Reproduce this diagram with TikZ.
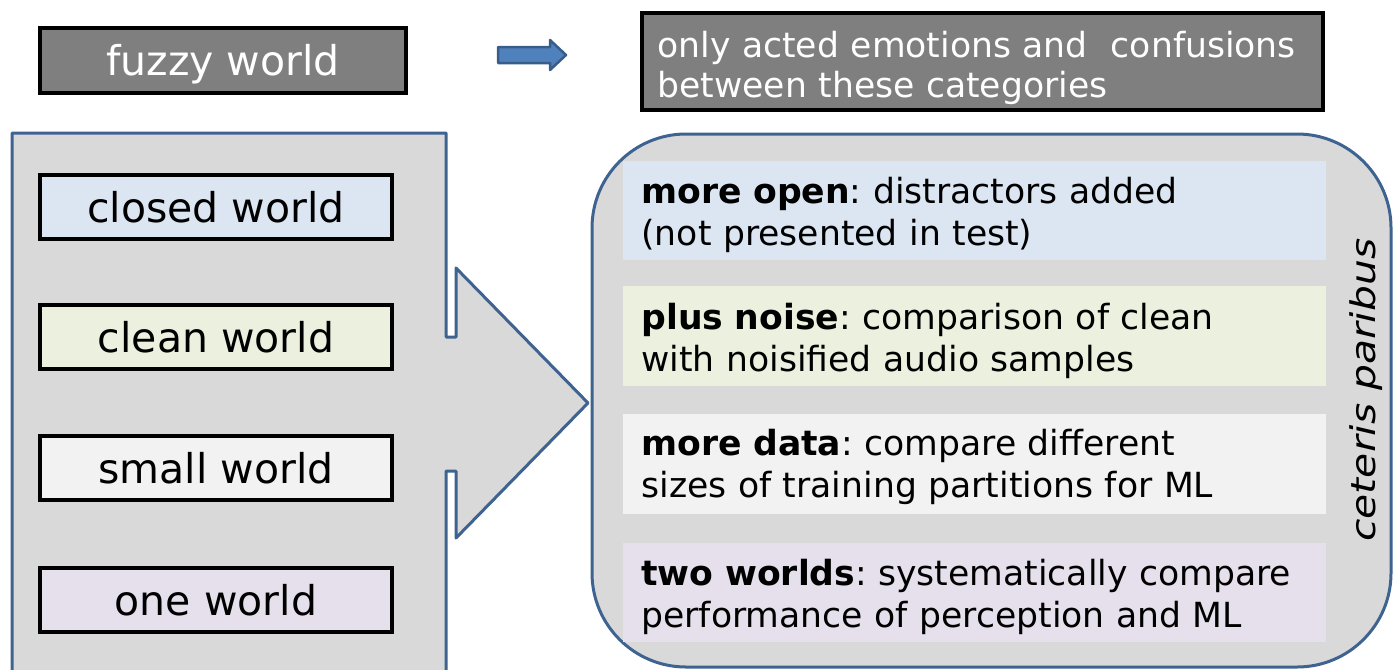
\documentclass[tikz,border=0pt]{standalone}
\usepackage{fontspec}
\usepackage{graphicx}
\setmainfont{DejaVu Sans}
\frenchspacing
\definecolor{darkfill}{HTML}{7F7F7F}
\definecolor{edgeblue}{HTML}{3F6391}
\definecolor{panel}{HTML}{D9D9D9}
\definecolor{cblue}{HTML}{DCE6F2}
\definecolor{cgreen}{HTML}{EBF1DE}
\definecolor{cgray}{HTML}{F2F2F2}
\definecolor{cviolet}{HTML}{E6E0EC}
\definecolor{arrowfill}{HTML}{4F81BD}
\definecolor{arrowedge}{HTML}{385D8A}
\tikzset{
  darkbox/.style={draw=black, fill=darkfill, line width=2pt, inner sep=0pt},
  worldbox/.style={draw=black, line width=2pt, inner sep=0pt,
    minimum width=176pt, minimum height=32pt,
    font=\fontsize{20.5}{24}\selectfont, text height=15.4pt, text depth=0pt},
  panelline/.style={draw=edgeblue, fill=panel, line width=1.5pt, line join=round},
  itemtext/.style={inner sep=0pt, anchor=base west, align=left, text width=340pt,
    font=\fontsize{17.3}{21}\selectfont},
}
\begin{document}
\begin{tikzpicture}[x=0.5pt,y=-0.5pt]
\useasboundingbox (0,0) rectangle (1400,669);
\clip (0,0) rectangle (1400,669);

% top row
\node[darkbox, minimum width=183pt, minimum height=32.5pt, text=white,
      font=\fontsize{20.5}{24}\selectfont, text height=15.4pt, text depth=0pt]
      (fuzzy) at (223,60.5) {fuzzy world};
\draw[draw=arrowedge, fill=arrowfill, line width=1.25pt, line join=round]
  (498,47) -- (550,47) -- (550,40) -- (566,55) -- (550,70) -- (550,63) -- (498,63) -- cycle;
\node[darkbox, minimum width=340.5pt, minimum height=48.5pt] (acted) at (982.5,61.5) {};
\node[itemtext, text=white, font=\fontsize{17.3}{20}\selectfont] (actedtext) at (657,57)
  {only acted emotions and \ confusions\\between these categories};

% left callout panel
\path[panelline] (12,700) -- (12,133) -- (446,133) -- (446,337) -- (456,337) -- (456,268)
  -- (588,403) -- (456,538) -- (456,471) -- (446,471) -- (446,700);
\node[worldbox, fill=cblue]   (closed) at (216,207) {closed world};
\node[worldbox, fill=cgreen]  (clean)  at (216,337) {clean world};
\node[worldbox, fill=cgray]   (small)  at (216,468) {small world};
\node[worldbox, fill=cviolet] (one)    at (216,600) {one world};

% right rounded panel
\path[panelline, rounded corners=47pt] (592,134) rectangle (1391,667);
\fill[cblue]   (623,161) rectangle (1326,260);
\fill[cgreen]  (623,286) rectangle (1326,386);
\fill[cgray]   (623,414) rectangle (1326,514);
\fill[cviolet] (623,543) rectangle (1326,642);
\node[itemtext] (open)  at (641,203) {\textbf{more open}: distractors added\\(not presented in test)};
\node[itemtext] (noise) at (641,329) {\textbf{plus noise}: comparison of clean\\with noisified audio samples};
\node[itemtext] (data)  at (641,455) {\textbf{more data}: compare different\\sizes of training partitions for ML};
\node[itemtext] (two)   at (641,585) {\textbf{two worlds}: systematically compare\\performance of perception and ML};
\node[rotate=90, anchor=base west, inner sep=0pt, font=\fontsize{17}{20}\selectfont\itshape]
  (ceteris) at (1375,542) {\scalebox{1.2}[1]{ceteris paribus}};
\end{tikzpicture}
\end{document}
